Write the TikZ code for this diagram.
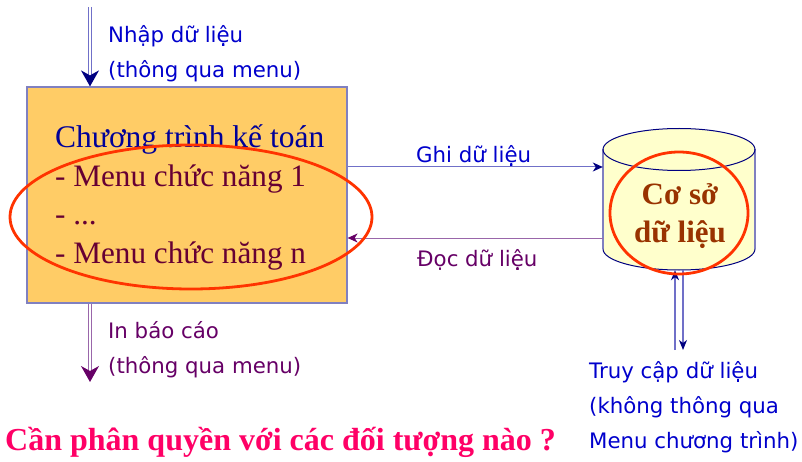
\documentclass[tikz,border=0pt]{standalone}
\usepackage{fontspec}
\setmainfont{Liberation Serif}
\newfontfamily\labelsans{DejaVu Sans}
\usetikzlibrary{arrows.meta}

\definecolor{boxfill}{RGB}{255,204,102}
\definecolor{boxline}{RGB}{128,128,192}
\definecolor{navyc}{RGB}{0,0,128}
\definecolor{titleblue}{RGB}{0,0,153}
\definecolor{itemred}{RGB}{102,0,51}
\definecolor{labelblue}{RGB}{0,0,204}
\definecolor{labelpurple}{RGB}{102,0,102}
\definecolor{mauve}{RGB}{153,102,170}
\definecolor{lav}{RGB}{112,112,200}
\definecolor{dbfill}{RGB}{255,255,204}
\definecolor{ringred}{RGB}{255,51,0}
\definecolor{dbbrown}{RGB}{153,51,0}
\definecolor{askpink}{RGB}{255,0,102}

\begin{document}
\begin{tikzpicture}[x=1pt,y=-1pt,
  prog/.style={draw=boxline, line width=1.2pt, fill=boxfill,
    minimum width=320pt, minimum height=216pt, inner sep=0pt},
  lbl/.style={anchor=base west, inner sep=0pt, font=\labelsans\fontsize{21.3}{25}\selectfont},
  title/.style={anchor=base west, inner sep=0pt, text=titleblue, font=\fontsize{31.5}{36}\selectfont},
  item/.style={anchor=base west, inner sep=0pt, text=itemred, font=\fontsize{31.2}{36}\selectfont},
  dbtext/.style={anchor=base, inner sep=0pt, text=dbbrown, font=\bfseries\fontsize{31}{36}\selectfont},
  dblblue/.style={draw=lav, line width=1.2pt, double=white, double distance=2.4pt,
    -{Stealth[length=16pt, width=18pt, inset=5pt, color=navyc]}},
  dblpurple/.style={draw=mauve, line width=1.2pt, double=white, double distance=2.4pt,
    -{Stealth[length=16pt, width=18pt, inset=5pt, color=labelpurple]}},
  writeflow/.style={draw=lav, line width=1pt, -{Stealth[length=10pt, width=9pt, inset=3pt, color=navyc]}},
  readflow/.style={draw=mauve, line width=1pt, -{Stealth[length=10pt, width=9pt, inset=3pt, color=labelpurple]}},
  accflow/.style={draw=lav, line width=1.2pt, -{Stealth[length=10pt, width=8pt, inset=3pt, color=navyc]}},
  ring/.style={draw=ringred, line width=2.8pt}
]
\useasboundingbox (0,0) rectangle (802,462);

% accounting program box
\node[prog] (prog) at (187,195) {};
\node[title] (t0) at (55,148) {Chương trình kế toán};
\node[item] (t1) at (55,187) {- Menu chức năng 1};
\node[item] (t2) at (55,225) {- ...};
\node[item] (t3) at (55,263) {- Menu chức năng n};

% database cylinder (y axis points down, so arcs run the other way)
\fill[dbfill] (603,149.5) -- (603,249) arc[start angle=180, end angle=0, x radius=76, y radius=21]
  -- (755,149.5) arc[start angle=0, end angle=-180, x radius=76, y radius=21] -- cycle;
\draw[boxline, line width=1.2pt] (603,149.5) -- (603,249) (755,149.5) -- (755,249);
\draw[navyc, line width=1pt] (679,149.5) ellipse[x radius=76, y radius=21];
\draw[navyc, line width=1pt] (603,249) arc[start angle=180, end angle=0, x radius=76, y radius=21];
\node[inner sep=0pt, minimum width=152pt, minimum height=141.5pt] (db) at (679,199.25) {};
\node[dbtext] (d1) at (680,205) {Cơ sở};
\node[dbtext] (d2) at (680,242) {dữ liệu};

% data entry
\coordinate (inTop) at (90,7);
\draw[dblblue] (inTop) -- (prog.north -| inTop);
\node[lbl, text=labelblue] (l1) at (108,43) {Nhập dữ liệu};
\node[lbl, text=labelblue] (l2) at (108,78) {(thông qua menu)};

% report output
\coordinate (outEnd) at (90,382);
\draw[dblpurple] (prog.south -| outEnd) -- (outEnd);
\node[lbl, text=labelpurple] (r1) at (108,338) {In báo cáo};
\node[lbl, text=labelpurple] (r2) at (108,373) {(thông qua menu)};

% write / read between program and database
\coordinate (wy) at (0,167);
\coordinate (ry) at (0,238);
\draw[writeflow] (prog.east |- wy) -- (db.west |- wy);
\draw[readflow] (db.west |- ry) -- (prog.east |- ry);
\node[lbl, text=labelblue] (w1) at (416,163) {Ghi dữ liệu};
\node[lbl, text=labelpurple] (rd1) at (417,266) {Đọc dữ liệu};

% direct access to the database
\coordinate (accL) at (675,350);
\coordinate (accR) at (683,350);
\draw[accflow] (accL) -- (db.south -| accL);
\draw[accflow] (db.south -| accR) -- (accR);
\node[lbl, text=labelblue] (a1) at (589,378) {Truy cập dữ liệu};
\node[lbl, text=labelblue] (a2) at (589,413) {(không thông qua};
\node[lbl, text=labelblue] (a3) at (589,448) {Menu chương trình)};

% highlight rings
\draw[ring] (191,217) ellipse[x radius=181, y radius=72];
\draw[ring] (679,213) ellipse[x radius=69, y radius=61];

% question
\node[anchor=base west, inner sep=0pt, text=askpink, font=\bfseries\fontsize{32}{38}\selectfont] (q) at (5,450)
  {Cần phân quyền với các đối tượng nào ?};
\end{tikzpicture}
\end{document}
